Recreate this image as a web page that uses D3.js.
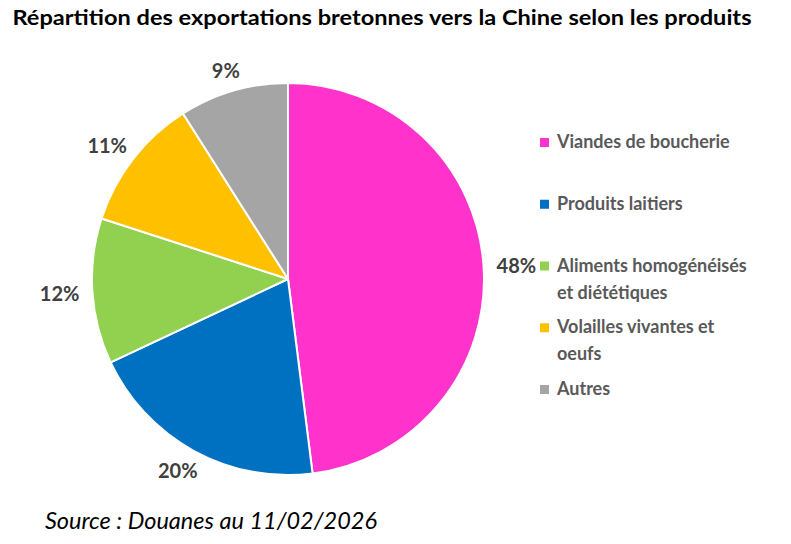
<!DOCTYPE html>
<html><head><meta charset="utf-8">
<script src="https://cdn.jsdelivr.net/npm/d3@7"></script>
<style>body{margin:0;background:#fff}svg{display:block}</style>
</head><body>
<svg id="c" width="791" height="544"></svg>
<script>
const categories = ["Viandes de boucherie", "Produits laitiers", "Aliments homogénéisés et diététiques", "Volailles vivantes et oeufs", "Autres"];
const legendLines = [["Viandes de boucherie"], ["Produits laitiers"], ["Aliments homogénéisés", "et diététiques"], ["Volailles vivantes et", "oeufs"], ["Autres"]];
const values = [48, 20, 12, 11, 9];
const colors = ["#FF33CC", "#0070C0", "#92D050", "#FFC000", "#A5A5A5"];
const title = "Répartition des exportations bretonnes vers la Chine selon les produits";
const source = "Source : Douanes au 11/02/2026";

const svg = d3.select("#c");
const font = "Lato, 'Open Sans', sans-serif";
const cx = 288, cy = 279, r = 196;

svg.append("text").attr("x", 382).attr("y", 25).attr("text-anchor", "middle")
  .attr("font-family", font).attr("font-weight", 700).attr("font-size", 21)
  .attr("fill", "#000").attr("textLength", 739).attr("lengthAdjust", "spacingAndGlyphs").text(title);

const pie = d3.pie().sort(null).value(d => d)(values);
const arc = d3.arc().innerRadius(0).outerRadius(r);
const g = svg.append("g").attr("transform", `translate(${cx},${cy})`);
g.selectAll("path").data(pie).join("path")
  .attr("d", arc).attr("fill", (d, i) => colors[i])
  .attr("stroke", "#fff").attr("stroke-width", 2).attr("stroke-linejoin", "round");

const d0 = 13;
const lbl = g.selectAll("text.lbl").data(pie).join("text").attr("class", "lbl")
  .attr("font-family", font).attr("font-weight", 700).attr("font-size", 20)
  .attr("fill", "#404040").attr("text-anchor", "middle").attr("dominant-baseline", "central")
  .text(d => d.data + "%");
lbl.each(function(d) {
  const a = (d.startAngle + d.endAngle) / 2;
  const w = this.getComputedTextLength(), h = 18;
  const s = Math.sin(a), c = Math.cos(a);
  const x = (r + d0) * s + s * w / 2;
  const y = -(r + d0) * c - c * h / 2;
  d3.select(this).attr("x", x).attr("y", y);
});

const leg = svg.append("g");
legendLines.forEach((lines, i) => {
  const by = 148 + i * 61.75;
  leg.append("rect").attr("x", 540).attr("y", by - 10).attr("width", 9).attr("height", 9).attr("fill", colors[i]);
  lines.forEach((t, j) => {
    leg.append("text").attr("x", 557).attr("y", by + j * 27)
      .attr("font-family", font).attr("font-weight", 700).attr("font-size", 18)
      .attr("fill", "#595959").text(t);
  });
});

svg.append("text").attr("x", 45).attr("y", 529)
  .attr("font-family", font).attr("font-style", "italic").attr("font-size", 23.5)
  .attr("fill", "#000").text(source);
</script>
</body></html>
